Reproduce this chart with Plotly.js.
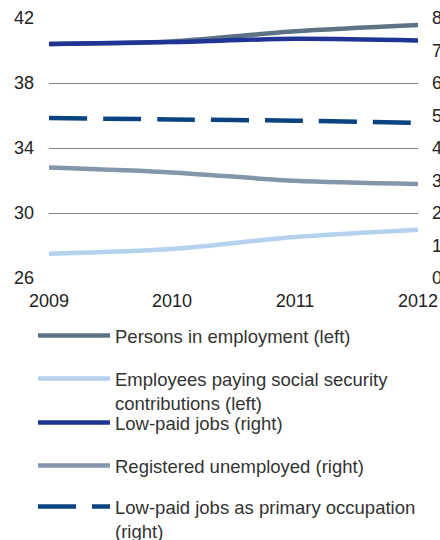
<!DOCTYPE html>
<html>
<head>
<meta charset="utf-8">
<script src="https://cdn.plot.ly/plotly-3.0.1.min.js"></script>
<style>html,body{margin:0;padding:0;background:#fff;}#chart{width:440px;height:540px;}</style>
</head>
<body>
<div id="chart"></div>
<script>
const years = [2009, 2010, 2011, 2012];
const personsEmployment = [40.4, 40.56, 41.18, 41.57];
const employeesSocialSecurity = [27.5, 27.78, 28.52, 28.97];
const lowPaidJobs = [7.2, 7.26, 7.36, 7.31];
const registeredUnemployed = [3.4, 3.25, 2.99, 2.89];
const lowPaidPrimary = [4.92, 4.88, 4.84, 4.77];
const leftTicks = [26, 30, 34, 38, 42];
const rightTicks = [0, 1, 2, 3, 4, 5, 6, 7, 8];

const names = [
  'Persons in employment (left)',
  'Employees paying social security<br>contributions (left)',
  'Low-paid jobs (right)',
  'Registered unemployed (right)',
  'Low-paid jobs as primary occupation<br>(right)'
];

const traces = [
  {x: years, y: personsEmployment, name: names[0], yaxis: 'y', legend: 'legend',
   line: {color: '#5d7285', width: 4.5, shape: 'spline', smoothing: 0.8}},
  {x: years, y: employeesSocialSecurity, name: names[1], yaxis: 'y', legend: 'legend2',
   line: {color: '#b4d1f0', width: 4.5, shape: 'spline', smoothing: 0.8}},
  {x: years, y: lowPaidJobs, name: names[2], yaxis: 'y2', legend: 'legend3',
   line: {color: '#1f3494', width: 4.5, shape: 'spline', smoothing: 0.8}},
  {x: years, y: registeredUnemployed, name: names[3], yaxis: 'y2', legend: 'legend4',
   line: {color: '#8496aa', width: 4.5, shape: 'spline', smoothing: 0.8}},
  {x: years, y: lowPaidPrimary, name: names[4], yaxis: 'y2', legend: 'legend5',
   line: {color: '#0b4381', width: 4.5, dash: '38px,16px', shape: 'spline', smoothing: 0.8}}
].map(t => Object.assign({type: 'scatter', mode: 'lines', hoverinfo: 'skip'}, t));

const font = {family: 'Liberation Sans, Arial, sans-serif', size: 18, color: '#222'};
const legFont = {family: 'Liberation Sans, Arial, sans-serif', size: 18.5, color: '#333'};
const plotTop = 18, plotBottom = 278, plotH = plotBottom - plotTop;
function py(px) { return (plotBottom - px) / plotH; }
function leg(ypx) {
  return {x: -(49 - 33) / 369, xanchor: 'left', y: py(ypx), yanchor: 'top',
    orientation: 'v', bgcolor: 'rgba(0,0,0,0)', borderwidth: 0, font: legFont,
    itemwidth: 72, valign: 'top', itemclick: false, itemdoubleclick: false};
}

const layout = {
  width: 440, height: 540,
  margin: {l: 49, r: 22, t: 18, b: 262, autoexpand: false},
  paper_bgcolor: '#fff', plot_bgcolor: '#fff',
  font: font,
  showlegend: true,
  xaxis: {range: [2009, 2012], tickvals: years, ticktext: years.map(String),
    showgrid: false, zeroline: false, showline: false, ticks: '', ticklabelstandoff: 10,
    tickfont: font, fixedrange: true},
  yaxis: {range: [26, 42], tickvals: leftTicks, ticktext: leftTicks.map(String),
    showgrid: true, gridcolor: '#808080', gridwidth: 1, zeroline: false, showline: false,
    ticks: '', ticklabelstandoff: 14, tickfont: font, fixedrange: true},
  yaxis2: {range: [0, 8], tickvals: rightTicks, ticktext: rightTicks.map(String),
    overlaying: 'y', side: 'right', showgrid: false, zeroline: false, showline: false,
    ticks: '', ticklabelstandoff: 13, tickfont: font, fixedrange: true},
  legend: leg(317),
  legend2: leg(360),
  legend3: leg(404),
  legend4: leg(447),
  legend5: leg(488)
};

Plotly.newPlot('chart', traces, layout, {displayModeBar: false, staticPlot: true});
</script>
</body>
</html>
